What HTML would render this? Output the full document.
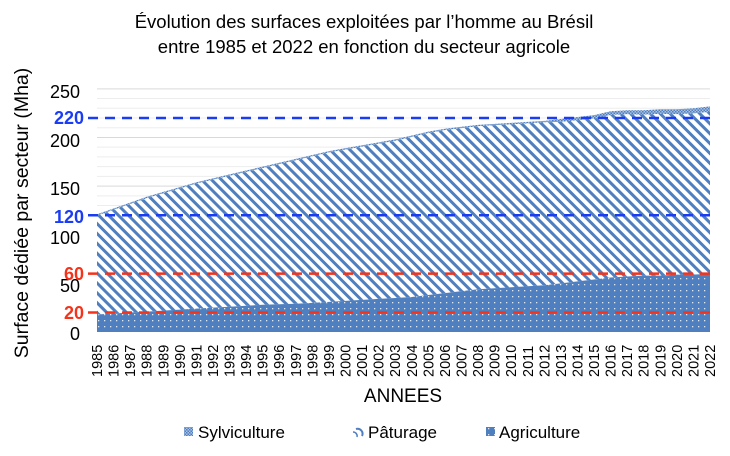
<!DOCTYPE html>
<html><head><meta charset="utf-8"><style>
html,body{margin:0;padding:0;background:#fff;}
svg{display:block;font-family:"Liberation Sans",Arial,sans-serif;}
</style></head><body>
<svg id="s" width="730" height="456" xmlns="http://www.w3.org/2000/svg">
<defs>
<pattern id="stripe" width="7" height="7" patternUnits="userSpaceOnUse" patternTransform="rotate(-45)">
<rect width="7" height="7" fill="#fff"/><rect width="3" height="7" fill="#4f7fbf"/>
</pattern>
<pattern id="dots" width="6" height="6" patternUnits="userSpaceOnUse">
<rect width="6" height="6" fill="#4f7fbf"/><rect x="2" y="2" width="1.3" height="1.3" fill="#dfe8f5"/>
</pattern>
<pattern id="check" width="3" height="3" patternUnits="userSpaceOnUse">
<rect width="3" height="3" fill="#a9c0e0"/><rect width="1.5" height="1.5" fill="#4f7fbf"/><rect x="1.5" y="1.5" width="1.5" height="1.5" fill="#4f7fbf"/>
</pattern>
</defs>
<text x="364" y="28" font-size="18.5" text-anchor="middle">Évolution des surfaces exploitées par l’homme au Brésil</text>
<text x="364" y="53" font-size="18.5" text-anchor="middle">entre 1985 et 2022 en fonction du secteur agricole</text>
<g id="grid"></g>
<g id="areas"></g>
<g id="lines"></g>
<g font-size="18" text-anchor="end">
<text x="80" y="98">250</text><text x="80" y="147">200</text><text x="80" y="195">150</text>
<text x="80" y="244">100</text><text x="80" y="292">50</text><text x="80" y="340">0</text>
<text x="84" y="124" fill="#1a3cf5" font-weight="bold">220</text>
<text x="84" y="223" fill="#1a3cf5" font-weight="bold">120</text>
<text x="84" y="280" fill="#f5331a" font-weight="bold">60</text>
<text x="84" y="319" fill="#f5331a" font-weight="bold">20</text>
</g>
<text transform="translate(28,213) rotate(-90)" font-size="19.5" text-anchor="middle">Surface dédiée par secteur (Mha)</text>
<g id="xl" font-size="14.5"></g>
<text x="403" y="402" font-size="19" text-anchor="middle">ANNEES</text>
<g font-size="17">
<rect x="184" y="427" width="9" height="9" fill="url(#check)"/><text x="198" y="438">Sylviculture</text>
<path d="M356 429 a5 5 0 0 1 6 7" stroke="#4f7fbf" stroke-width="2" fill="none"/><path d="M353 432 a4 4 0 0 1 4 5" stroke="#4f7fbf" stroke-width="1.5" fill="none"/><text x="368" y="438">Pâturage</text>
<rect x="486" y="427" width="9" height="9" fill="url(#dots)"/><text x="499" y="438">Agriculture</text>
</g>
</svg>
<script>
var tot=[121,127,133,139,144,149,154,158,162,166,170,174,178,182,186,189,192,195,198,202,206,209,211,213,214,215,216,217,219,221,223,227,228,228,229,229,230,232];
var agr=[18,19,20,21,22,23,24,25,26,27,28,28.5,29,30,31,32,33,34,35,36,38,40,42,44,45,46,47,48,50,52,54,56,57,58,58,59,59,60];
var x0=97,x1=710,st=(x1-x0)/37;
function X(i){return x0+i*st}function Y(v){return 332-v*0.9727}
var g='';for(var v=10;v<=250;v+=10){g+='<line x1="'+x0+'" x2="'+x1+'" y1="'+Y(v)+'" y2="'+Y(v)+'" stroke="'+(v%50?'#ededed':'#d9d9d9')+'" stroke-width="1"/>';}
document.getElementById('grid').innerHTML=g;
function poly(top,bot,f){var p=[];for(var i=0;i<38;i++)p.push(X(i)+','+Y(top[i]));for(var i=37;i>=0;i--)p.push(X(i)+','+Y(bot[i]));return '<polygon points="'+p.join(' ')+'" fill="'+f+'"/>';}
var past=tot.map(function(t,i){return t-(i<28?1.5:3+ (i-28)*0.3)});
var zero=tot.map(function(){return 0});
document.getElementById('areas').innerHTML=poly(tot,past,'url(#check)')+poly(past,agr,'url(#stripe)')+poly(agr,zero,'url(#dots)');
var l='';[[220,'#1a3cf5'],[120,'#1a3cf5'],[60,'#f5331a'],[20,'#f5331a']].forEach(function(d){l+='<line x1="88" x2="711" y1="'+Y(d[0])+'" y2="'+Y(d[0])+'" stroke="'+d[1]+'" stroke-width="2.5" stroke-dasharray="10,7"/>';});
document.getElementById('lines').innerHTML=l;
var t='';for(var i=0;i<38;i++){var x=X(i)+5;t+='<text transform="translate('+x+',377) rotate(-90)">'+(1985+i)+'</text>';}
document.getElementById('xl').innerHTML=t;
</script>
</body></html>
